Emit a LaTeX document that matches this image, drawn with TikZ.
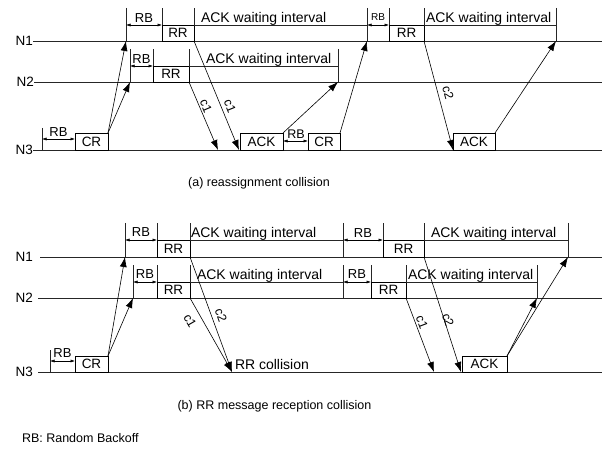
\documentclass[tikz,border=0pt]{standalone}
\usepackage{fontspec}
\setmainfont{Liberation Sans}
\usetikzlibrary{arrows.meta}
\begin{document}
\begin{tikzpicture}[x=1pt,y=-1pt,
  every node/.style={inner sep=0pt, outer sep=0pt},
  ln/.style={line width=0.6pt, draw=black!85},
  msg/.style={line width=0.6pt, draw=black, -{Latex[length=10pt,width=7pt]}},
  rbarr/.style={line width=0.5pt, {Latex[length=4.5pt,width=3pt]}-{Latex[length=4.5pt,width=3pt]}},
  box/.style={draw, line width=0.6pt, anchor=north west, font=\fontsize{13.5}{14}\selectfont},
  lbl/.style={font=\fontsize{14}{16}\selectfont, anchor=base west},
  rbl/.style={font=\fontsize{13}{14}\selectfont, anchor=base},
  rbs/.style={font=\fontsize{10}{11}\selectfont, anchor=base},
  nl/.style={font=\fontsize{13.5}{15}\selectfont, anchor=east},
  clbl/.style={font=\fontsize{12.5}{14}\selectfont},
  captext/.style={font=\fontsize{12.5}{14}\selectfont, anchor=base},
]
\useasboundingbox (0,0) rectangle (605,449);

% ================= (a) =================
\node[nl] (N1a) at (33,41) {N1};
\node[nl] (N2a) at (34,82) {N2};
\node[nl] (N3a) at (33,150) {N3};
\coordinate (N1aE) at (602,41);
\coordinate (N2aE) at (602,82);
\coordinate (N3aE) at (602,150);
\draw[ln] (N1a.east) -- (N1aE);
\draw[ln] (N2a.east) -- (N2aE);
\draw[ln] (N3a.east) -- (N3aE);
\coordinate (topA1) at (0,8);
\coordinate (topA2) at (0,49);

% N3 (a)
\draw[ln] (42,128) coordinate (a3k0t) -- (42,150) coordinate (a3k0b);
\node[box, minimum width=33pt, minimum height=17pt] (CRa) at (75,133) {CR};
\draw[rbarr] (42,139) coordinate (a3r0s) -- (75,139) coordinate (a3r0e);
\node[rbl] (rbA30) at (58.5,137) {RB};
\node[box, minimum width=43pt, minimum height=17pt] (ACKa1) at (240,133) {ACK};
\node[box, minimum width=32pt, minimum height=17pt] (CRa2) at (308,133) {CR};
\draw[rbarr] (ACKa1.east |- 0,141) coordinate (a3r1s) -- (CRa2.west |- 0,141) coordinate (a3r1e);
\node[font=\fontsize{12.5}{14}\selectfont, anchor=base] (rbA31) at (296,138.5) {RB};
\node[box, minimum width=42pt, minimum height=17pt] (ACKa2) at (453,133) {ACK};

% N1 (a)
\draw[ln] (126,8) coordinate (a1k1t) -- (126,41) coordinate (a1k1b);
\node[box, minimum width=32pt, minimum height=16pt] (RRa1) at (162,25) {RR};
\draw[rbarr] (126,25) coordinate (a1r1s) -- (RRa1.north west) ;
\node[rbl] (rbA11) at (144,23) {RB};
\draw[ln] (RRa1.north west) -- (RRa1.north west |- topA1);
\draw[ln] (RRa1.north east) -- (RRa1.north east |- topA1);
\draw[ln] (367,8) coordinate (a1k2t) -- (367,41) coordinate (a1k2b);
\draw[ln] (RRa1.north east) -- (367,25) coordinate (a1w1e);
\node[lbl] (ackA11) at (201,23) {ACK waiting interval};
\node[box, minimum width=35pt, minimum height=16pt] (RRa2) at (389,25) {RR};
\draw[rbarr] (a1w1e) -- (RRa2.north west);
\node[rbs] (rbA12) at (378,20.5) {RB};
\draw[ln] (RRa2.north west) -- (RRa2.north west |- topA1);
\draw[ln] (RRa2.north east) -- (RRa2.north east |- topA1);
\draw[ln] (556,8) coordinate (a1k3t) -- (556,41) coordinate (a1k3b);
\draw[ln] (RRa2.north east) -- (556,25) coordinate (a1w2e);
\node[lbl] (ackA12) at (426,23) {ACK waiting interval};

% N2 (a)
\draw[ln] (130,49) coordinate (a2k1t) -- (130,82) coordinate (a2k1b);
\node[box, minimum width=36pt, minimum height=16pt] (RRa3) at (153,66) {RR};
\draw[rbarr] (130,66) coordinate (a2r1s) -- (RRa3.north west);
\node[rbl] (rbA21) at (141.5,63.5) {RB};
\draw[ln] (RRa3.north west) -- (RRa3.north west |- topA2);
\draw[ln] (RRa3.north east) -- (RRa3.north east |- topA2);
\draw[ln] (338,49) coordinate (a2k2t) -- (338,82) coordinate (a2k2b);
\draw[ln] (RRa3.north east) -- (338,66) coordinate (a2w1e);
\node[lbl] (ackA21) at (206,64) {ACK waiting interval};

% messages (a)
\draw[msg] (CRa.north east) -- (a1k1b);
\draw[msg] (CRa.north east) -- (a2k1b);
\coordinate (a3c1) at (218,150);
\draw[msg] (RRa3.south east) -- (a3c1);
\draw[msg] (RRa1.south east) -- ([xshift=-1pt]ACKa1.south west);
\draw[msg] (ACKa1.north east) -- (a2k2b);
\draw[msg] (CRa2.north east) -- (a1k2b);
\draw[msg] (RRa2.south east) -- (ACKa2.south west);
\draw[msg] (ACKa2.north east) -- (a1k3b);
\node[clbl, rotate=-67] (c1a1) at (206,106) {c1};
\node[clbl, rotate=-68] (c1a2) at (230,106) {c1};
\node[clbl, rotate=-75] (c2a1) at (448,93) {c2};

\node[captext] (capA) at (259,187) {(a) reassignment collision};

% ================= (b) =================
\node[nl] (N1b) at (33,257) {N1};
\node[nl] (N2b) at (33,298) {N2};
\node[nl] (N3b) at (33,372) {N3};
\coordinate (N1bE) at (602,257);
\coordinate (N2bE) at (602,298);
\coordinate (N3bE) at (602,372);
\draw[ln] ([xshift=7pt]N1b.east) -- (N1bE);
\draw[ln] ([xshift=5pt]N2b.east) -- (N2bE);
\draw[ln] ([xshift=5pt]N3b.east) -- (N3bE);
\coordinate (topB1) at (0,223);
\coordinate (topB2) at (0,265);

% N3 (b)
\draw[ln] (50,350) coordinate (b3k0t) -- (50,372) coordinate (b3k0b);
\node[box, minimum width=33pt, minimum height=16pt] (CRb) at (75,356) {CR};
\draw[rbarr] (50,361) coordinate (b3r0s) -- (75,361) coordinate (b3r0e);
\node[rbl] (rbB30) at (62.5,357.5) {RB};
\node[box, minimum width=45pt, minimum height=16pt] (ACKb) at (462,356) {ACK};

% N1 (b)
\draw[ln] (125,223) coordinate (b1k1t) -- (125,257) coordinate (b1k1b);
\node[box, minimum width=33pt, minimum height=17pt] (RRb1) at (157,240) {RR};
\draw[rbarr] (125,240) coordinate (b1r1s) -- (RRb1.north west);
\node[rbl] (rbB11) at (141,236.5) {RB};
\draw[ln] (RRb1.north west) -- (RRb1.north west |- topB1);
\draw[ln] (RRb1.north east) -- (RRb1.north east |- topB1);
\draw[ln] (343,223) coordinate (b1k2t) -- (343,257) coordinate (b1k2b);
\draw[ln] (RRb1.north east) -- (343,240) coordinate (b1w1e);
\node[lbl] (ackB11) at (191,237.5) {ACK waiting interval};
\node[box, minimum width=41pt, minimum height=17pt] (RRb2) at (383,240) {RR};
\draw[rbarr] (b1w1e) -- (RRb2.north west);
\node[rbl] (rbB12) at (363,237) {RB};
\draw[ln] (RRb2.north west) -- (RRb2.north west |- topB1);
\draw[ln] (RRb2.north east) -- (RRb2.north east |- topB1);
\draw[ln] (568,223) coordinate (b1k3t) -- (568,257) coordinate (b1k3b);
\draw[ln] (RRb2.north east) -- (568,240) coordinate (b1w2e);
\node[lbl] (ackB12) at (431,237.5) {ACK waiting interval};

% N2 (b)
\draw[ln] (133,265) coordinate (b2k1t) -- (133,298) coordinate (b2k1b);
\node[box, minimum width=33pt, minimum height=16pt] (RRb3) at (157,282) {RR};
\draw[rbarr] (133,282) coordinate (b2r1s) -- (RRb3.north west);
\node[rbl] (rbB21) at (145,278.5) {RB};
\draw[ln] (RRb3.north west) -- (RRb3.north west |- topB2);
\draw[ln] (RRb3.north east) -- (RRb3.north east |- topB2);
\draw[ln] (343,265) coordinate (b2k2t) -- (343,298) coordinate (b2k2b);
\draw[ln] (RRb3.north east) -- (343,282) coordinate (b2w1e);
\node[lbl] (ackB21) at (197,279) {ACK waiting interval};
\node[box, minimum width=35pt, minimum height=16pt] (RRb4) at (371,282) {RR};
\draw[rbarr] (b2w1e) -- (RRb4.north west);
\node[rbl] (rbB22) at (357,278) {RB};
\draw[ln] (RRb4.north west) -- (RRb4.north west |- topB2);
\draw[ln] (RRb4.north east) -- (RRb4.north east |- topB2);
\draw[ln] (537,265) coordinate (b2k3t) -- (537,298) coordinate (b2k3b);
\draw[ln] (RRb4.north east) -- (537,282) coordinate (b2w2e);
\node[lbl] (ackB22) at (408,279) {ACK waiting interval};

% messages (b)
\draw[msg] (CRb.north east) -- (b1k1b);
\draw[msg] (CRb.north east) -- (b2k1b);
\coordinate (bcoll) at (232,372);
\draw[msg] (RRb1.south east) -- (bcoll);
\draw[msg] (RRb3.south east) -- (bcoll);
\coordinate (b3c1) at (434,372);
\draw[msg] (RRb4.south east) -- (b3c1);
\draw[msg] (RRb2.south east) -- ([xshift=-1pt]ACKb.south west);
\draw[msg] (ACKb.north east) -- (b1k3b);
\draw[msg] (ACKb.north east) -- (b2k3b);
\node[clbl, rotate=-60] (c1b1) at (190,321) {c1};
\node[clbl, rotate=-70] (c2b1) at (221,315) {c2};
\node[clbl, rotate=-69] (c1b2) at (422,322) {c1};
\node[clbl, rotate=-72] (c2b2) at (448,320) {c2};
\node[lbl] (rrcoll) at (235,369.5) {RR collision};

\node[captext] (capB) at (274.5,409) {(b) RR message reception collision};
\node[captext, anchor=base west] (legend) at (22,442) {RB: Random Backoff};

\end{tikzpicture}
\end{document}
